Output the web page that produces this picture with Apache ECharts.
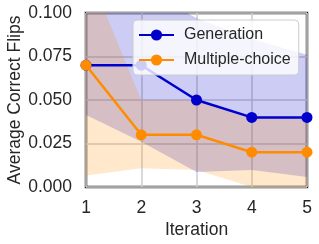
<!DOCTYPE html>
<html>
<head>
<meta charset="utf-8">
<script src="https://cdn.jsdelivr.net/npm/echarts@6/dist/echarts.min.js"></script>
<style>html,body{margin:0;padding:0;background:#fff}#c{width:319px;height:244px}</style>
</head>
<body>
<div id="c"></div>
<script>
const iterations = [1, 2, 3, 4, 5];
const genMean = [0.07, 0.07, 0.05, 0.04, 0.04];
const genLower = [0.0414, 0.026, 0.0086, 0.0098, 0.0058];
const genUpper = [0.13, 0.115, 0.097, 0.085, 0.076];
const mcMean = [0.07, 0.03, 0.03, 0.02, 0.02];
const mcLower = [0.0066, 0.0108, 0.0098, 0.0, 0.0];
const mcUpper = [0.127, 0.05, 0.05, 0.04, 0.04];
const yTicks = [0, 0.025, 0.05, 0.075, 0.1];

const BLUE = '#0000CD', ORANGE = '#FF8C00';
const FONT = 'Liberation Sans, Arial, sans-serif';
const pairs = (ys) => iterations.map((x, i) => [x, ys[i]]);

function band(name, lo, hi, color, z) {
  return {
    name: name, type: 'custom', silent: true, z: z, clip: true,
    data: iterations.map((x, i) => [x, lo[i], hi[i]]),
    renderItem: function (params, api) {
      if (params.dataIndex !== 0) return null;
      const pts = [];
      iterations.forEach((x, i) => pts.push(api.coord([x, hi[i]])));
      for (let i = iterations.length - 1; i >= 0; i--) pts.push(api.coord([iterations[i], lo[i]]));
      const tl = api.coord([iterations[0], yTicks[yTicks.length - 1]]);
      const br = api.coord([iterations[iterations.length - 1], yTicks[0]]);
      return {
        type: 'group',
        clipPath: {type: 'rect', shape: {x: tl[0], y: tl[1], width: br[0] - tl[0], height: br[1] - tl[1]}},
        children: [{type: 'polygon', shape: {points: pts}, style: {fill: color}}]
      };
    }
  };
}

const chart = echarts.init(document.getElementById('c'), null, {renderer: 'canvas'});
chart.setOption({
  animation: false,
  backgroundColor: '#fff',
  grid: {left: 86, right: 12, top: 13, bottom: 57, show: true, outerBoundsMode: 'none', containLabel: false,
         borderColor: '#262626', borderWidth: 2.5, backgroundColor: 'transparent'},
  xAxis: {type: 'value', min: 1, max: 5, interval: 1,
    name: 'Iteration', nameLocation: 'middle', nameGap: 34, nameMoveOverlap: false,
    nameTextStyle: {fontSize: 17.5, color: '#262626', fontFamily: FONT},
    axisLine: {show: false}, axisTick: {show: false},
    axisLabel: {fontSize: 17.5, color: '#262626', fontFamily: FONT, margin: 12},
    splitLine: {show: true, lineStyle: {color: '#cccccc', width: 1.5}}},
  yAxis: {type: 'value', min: yTicks[0], max: yTicks[yTicks.length - 1], interval: 0.025,
    name: 'Average Correct Flips', nameLocation: 'middle', nameGap: 62, nameMoveOverlap: false,
    nameTextStyle: {fontSize: 17.5, color: '#262626', fontFamily: FONT},
    axisLine: {show: false}, axisTick: {show: false},
    axisLabel: {fontSize: 17.5, color: '#262626', fontFamily: FONT, margin: 14,
      formatter: (v) => v.toFixed(3)},
    splitLine: {show: true, lineStyle: {color: '#cccccc', width: 1.5}}},
  legend: {
    data: ['Generation', 'Multiple-choice'], orient: 'vertical',
    left: 133, top: 20, padding: [7, 8, 7, 5], itemWidth: 35, itemHeight: 14, itemGap: 9,
    backgroundColor: 'rgba(255,255,255,0.8)', borderColor: '#cccccc', borderWidth: 1, borderRadius: 4,
    textStyle: {fontSize: 16, color: '#262626', fontFamily: FONT, padding: [0, 0, 0, 5]},
    z: 20
  },
  series: [
    band('genBand', genLower, genUpper, 'rgba(0,0,205,0.2)', 1),
    band('mcBand', mcLower, mcUpper, 'rgba(255,140,0,0.2)', 1),
    {name: 'Generation', type: 'line', data: pairs(genMean), symbol: 'circle', symbolSize: 11,
     itemStyle: {color: BLUE}, lineStyle: {color: BLUE, width: 2.5}, z: 3},
    {name: 'Multiple-choice', type: 'line', data: pairs(mcMean), symbol: 'circle', symbolSize: 11,
     itemStyle: {color: ORANGE}, lineStyle: {color: ORANGE, width: 2.5}, z: 4}
  ]
});
</script>
</body>
</html>
